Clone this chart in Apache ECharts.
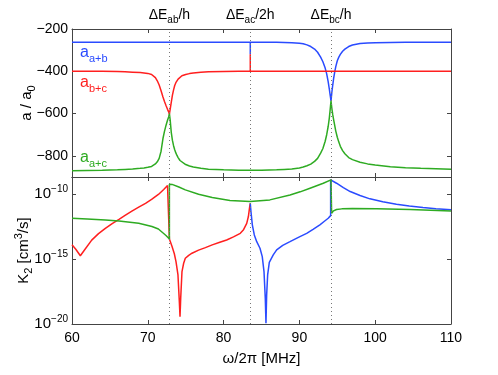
<!DOCTYPE html>
<html><head><meta charset="utf-8">
<script src="https://cdn.jsdelivr.net/npm/echarts@6/dist/echarts.min.js"></script>
<style>html,body{margin:0;padding:0;background:#fff}#c{width:498px;height:375px}</style>
</head><body><div id="c"></div>
<script>
// ---------- Top panel: scattering lengths a / a0 ----------
const topFreq = [60,62,64,66,67,68,69,69.5,70,70.5,71,71.25,71.5,71.75,72,72.2,72.4,72.6,72.75,72.85,72.95,73.1,73.25,73.4,73.55,73.7,73.85,74,74.25,74.5,75,75.5,76,77,78,80,82,
  83.52,83.52,83.52,
  85,87,88,89,90,90.5,91,91.5,92,92.4,92.8,93.1,93.4,93.6,93.8,93.95,94.05,94.17,94.28,94.4,94.52,94.65,94.8,95,95.2,95.4,95.7,96,96.5,97,98,99,100,102,104,106,108,110];
const aAB = [-263,-263,-263,-263,-263,-263,-263,-263,-263,-263,-263,-263,-263,-263,-263,-263,-263,-263,-263,-263,-263,-263,-263,-263,-263,-263,-263,-263,-263,-263,-263,-263,-263,-263,-263,-263,-263,
  -263,-320,-263,
  -263,-263,-264,-265,-267,-270,-275,-283,-295,-310,-333,-355,-385,-412,-450,-485,-510,-540,-500,-465,-433,-405,-378,-350,-333,-320,-305,-295,-283,-276,-269,-266,-265,-264,-263,-263,-263,-263];
const aBC = [-400,-400,-400,-401,-402,-404,-406,-408,-410,-415,-430,-445,-465,-492,-522,-543,-562,-580,-592,-603,-580,-546,-513,-488,-467,-454,-445,-437,-428,-421,-415,-411,-408,-404,-402,-401,-400,
  -400,-320,-400,
  -400,-400,-400,-400,-400,-400,-400,-400,-400,-400,-400,-400,-400,-400,-400,-400,-400,-400,-400,-400,-400,-400,-400,-400,-400,-400,-400,-400,-400,-400,-400,-400,-400,-400,-400,-400,-400,-400];
const aAC = [-870,-869,-868,-866,-864,-862,-859,-857,-854,-850,-838,-828,-812,-778,-718,-684,-656,-632,-616,-600,-630,-690,-727,-752,-771,-786,-798,-808,-822,-831,-841,-848,-853,-859,-863,-866,-868,
  -868,-868,-868,
  -868,-866,-864,-862,-857,-853,-847,-839,-826,-812,-787,-765,-731,-700,-660,-620,-585,-540,-575,-605,-630,-655,-683,-712,-735,-755,-775,-790,-808,-818,-830,-838,-843,-851,-856,-859,-861,-863];

// ---------- Bottom panel: log10 of K2 [cm^3/s] ----------
const redFreq = [60,60.5,61.1,61.6,62.6,63.5,64.4,65.3,66.2,67,67.9,68.8,69.7,70.5,71.4,72.1,72.6,72.85,72.85,73.2,73.5,73.72,73.98,74.16,74.25,74.34,74.51,74.73,74.95,75.4,75.83,76.7,77.6,78.5,79.5,80.4,81.3,82.2,82.6,83.05,83.27,83.46,83.52];
const redLogK2 = [-13.9,-14.25,-14.75,-14.35,-13.55,-13.05,-12.65,-12.28,-11.95,-11.65,-11.32,-11.02,-10.72,-10.42,-10.04,-9.66,-9.36,-9.25,-13.46,-14.05,-14.6,-15.2,-16.23,-18.28,-19.44,-18.03,-15.97,-15.33,-14.95,-14.72,-14.56,-14.32,-14.13,-13.92,-13.72,-13.54,-13.3,-13.03,-12.78,-12.26,-11.74,-10.9,-10.72];
const blueFreq = [83.52,83.61,83.79,84.05,84.37,84.8,85.1,85.33,85.5,85.59,85.68,85.81,86.03,86.55,87,87.8,88.76,90,90.96,91.8,92.7,93.3,93.8,94.12,94.12,94.9,95.8,96.7,98,99.3,101,102.8,104.5,106.3,108,110];
const blueLogK2 = [-10.72,-11.36,-12.38,-13.15,-13.67,-14.18,-14.82,-15.97,-18.03,-19.95,-17.77,-16.23,-15.26,-14.69,-14.3,-13.95,-13.67,-13.3,-13.03,-12.72,-12.38,-12.1,-11.87,-11.67,-8.92,-9.18,-9.52,-9.82,-10.12,-10.38,-10.6,-10.79,-10.93,-11.05,-11.14,-11.22];
const greenFreq = [60,62,64.4,66.2,68.8,70.55,71.4,71.9,72.4,72.85,72.85,73.2,74.1,74.95,76.7,78.5,80.84,83.5,86.1,88.76,90.1,91.4,93.15,94.17,94.25,94.25,94.5,94.9,95.6,97,100.2,104.6,110];
const greenLogK2 = [-11.87,-11.93,-12,-12.08,-12.26,-12.51,-12.7,-12.95,-13.2,-13.46,-9.25,-9.27,-9.47,-9.69,-10.02,-10.28,-10.51,-10.59,-10.46,-10.08,-9.84,-9.56,-9.18,-8.92,-8.93,-11.49,-11.3,-11.2,-11.15,-11.13,-11.15,-11.2,-11.31];

// ---------- Annotations / ticks ----------
const resonanceFreq = [72.85, 83.52, 94.17];
const resonanceSub = ['ab', 'ac', 'bc'];
const resonanceSuffix = ['/h', '/2h', '/h'];
const topYTicks = [-800, -600, -400, -200];
const bottomYTicks = [-20, -15, -10];

const BLUE = '#2a4bff', RED = '#ff1f1f', GREEN = '#2eab22';
const AX = '#444';
const FONT = 'Liberation Sans, Arial, Helvetica, sans-serif';
const zip = (xs, ys) => xs.map((x, i) => [x, ys[i]]);
const minus = v => (v < 0 ? '\u2212' + Math.abs(v) : String(v));

function xAx(grid, pos, labels, extra) {
  return Object.assign({
    type: 'value', gridIndex: grid, position: pos, min: 60, max: 110, interval: 10,
    axisLine: { show: true, onZero: false, lineStyle: { color: AX, width: 1 } },
    axisTick: { show: true, inside: true, length: 4, lineStyle: { color: AX } },
    axisLabel: { show: labels, fontSize: 14, color: '#000', margin: 7, fontFamily: FONT },
    splitLine: { show: false }
  }, extra || {});
}
function yAx(grid, pos, labels, min, max, ticks, fmt, extra) {
  return Object.assign({
    type: 'value', gridIndex: grid, position: pos, min: min, max: max,
    axisLine: { show: true, onZero: false, lineStyle: { color: AX, width: 1 } },
    axisTick: { show: true, inside: true, length: 4, customValues: ticks, lineStyle: { color: AX } },
    axisLabel: { show: labels, customValues: ticks, formatter: fmt, fontSize: 14, color: '#000', margin: 4, fontFamily: FONT,
      rich: { b: { fontSize: 15, color: '#000', fontFamily: FONT }, s: { fontSize: 10, color: '#000', padding: [0, 0, 10, 0], fontFamily: FONT } } },
    splitLine: { show: false }
  }, extra || {});
}
const lineSeries = (name, data, color, xi, yi, extra) => Object.assign({
  type: 'line', name: name, data: data, xAxisIndex: xi, yAxisIndex: yi,
  showSymbol: false, symbol: 'none', lineStyle: { color: color, width: 1.5 }, itemStyle: { color: color },
  animation: false, silent: true
}, extra || {});

const dotted = { color: '#777', width: 1, type: [1, 3] };

const option = {
  animation: false,
  textStyle: { fontFamily: FONT },
  grid: [
    { left: 72, right: 47, top: 29, height: 148, outerBoundsMode: 'none' },
    { left: 72, right: 47, top: 177, height: 147, outerBoundsMode: 'none' }
  ],
  xAxis: [
    xAx(0, 'bottom', false),
    xAx(0, 'top', false),
    xAx(1, 'bottom', true, {
      name: 'ω/2π [MHz]', nameLocation: 'middle', nameGap: 27, nameMoveOverlap: false,
      nameTextStyle: { fontSize: 15, color: '#000', fontFamily: FONT }
    }),
    xAx(1, 'top', false)
  ],
  yAxis: [
    yAx(0, 'left', true, -900, -200, topYTicks, v => minus(v), {
      name: '{m|a / a}{s|0}', nameLocation: 'middle', nameGap: 35, nameRotate: 90, nameMoveOverlap: false,
      nameTextStyle: { fontSize: 15, color: '#000', fontFamily: FONT,
        rich: { m: { fontSize: 15, color: '#000', fontFamily: FONT }, s: { fontSize: 11, color: '#000', padding: [10, 0, 0, 0], fontFamily: FONT } } }
    }),
    yAx(0, 'right', false, -900, -200, topYTicks, v => minus(v)),
    yAx(1, 'left', true, -20, -8.7, bottomYTicks, v => '{b|10}{s|' + minus(v) + '}', {
      name: '{m|K}{d|2}{m| [cm}{u|3}{m|/s]}', nameLocation: 'middle', nameGap: 38, nameRotate: 90, nameMoveOverlap: false,
      nameTextStyle: { fontSize: 15, color: '#000', fontFamily: FONT,
        rich: { m: { fontSize: 15, color: '#000', fontFamily: FONT },
                d: { fontSize: 11, color: '#000', padding: [10, 0, 0, 0], fontFamily: FONT },
                u: { fontSize: 11, color: '#000', padding: [0, 0, 10, 0], fontFamily: FONT } } }
    }),
    yAx(1, 'right', false, -20, -8.7, bottomYTicks, v => '')
  ],
  series: [
    lineSeries('aab', zip(topFreq, aAB), BLUE, 0, 0, {
      markLine: {
        silent: true, symbol: 'none', animation: false,
        lineStyle: dotted,
        label: {
          show: true, position: 'end', distance: 4, color: '#000',
          formatter: p => '{m|ΔE}{s|' + resonanceSub[p.dataIndex] + '}{m|' + resonanceSuffix[p.dataIndex] + '}',
          rich: { m: { fontSize: 14, color: '#000', fontFamily: FONT }, s: { fontSize: 10, color: '#000', padding: [10, 0, 0, 0], fontFamily: FONT } }
        },
        data: resonanceFreq.map(f => ({ xAxis: f }))
      }
    }),
    lineSeries('abc', zip(topFreq, aBC), RED, 0, 0),
    lineSeries('aac', zip(topFreq, aAC), GREEN, 0, 0),
    lineSeries('Kbc', zip(redFreq, redLogK2), RED, 2, 2, {
      markLine: {
        silent: true, symbol: 'none', animation: false, lineStyle: dotted, label: { show: false },
        data: resonanceFreq.map(f => ({ xAxis: f }))
      }
    }),
    lineSeries('Kab', zip(blueFreq, blueLogK2), BLUE, 2, 2),
    lineSeries('Kac', zip(greenFreq, greenLogK2), GREEN, 2, 2)
  ],
  graphic: [
    { type: 'text', left: 80, top: 45, silent: true,
      style: { text: '{m|a}{s|a+b}', fill: BLUE,
        rich: { m: { fontSize: 16, fill: BLUE, fontFamily: FONT }, s: { fontSize: 11, fill: BLUE, padding: [11, 0, 0, 0], fontFamily: FONT } } } },
    { type: 'text', left: 80, top: 75, silent: true,
      style: { text: '{m|a}{s|b+c}', fill: RED,
        rich: { m: { fontSize: 16, fill: RED, fontFamily: FONT }, s: { fontSize: 11, fill: RED, padding: [11, 0, 0, 0], fontFamily: FONT } } } },
    { type: 'text', left: 80, top: 150, silent: true,
      style: { text: '{m|a}{s|a+c}', fill: GREEN,
        rich: { m: { fontSize: 16, fill: GREEN, fontFamily: FONT }, s: { fontSize: 11, fill: GREEN, padding: [11, 0, 0, 0], fontFamily: FONT } } } }
  ]
};
const chart = echarts.init(document.getElementById('c'), null, { renderer: 'canvas' });
chart.setOption(option);
</script>
</body></html>
